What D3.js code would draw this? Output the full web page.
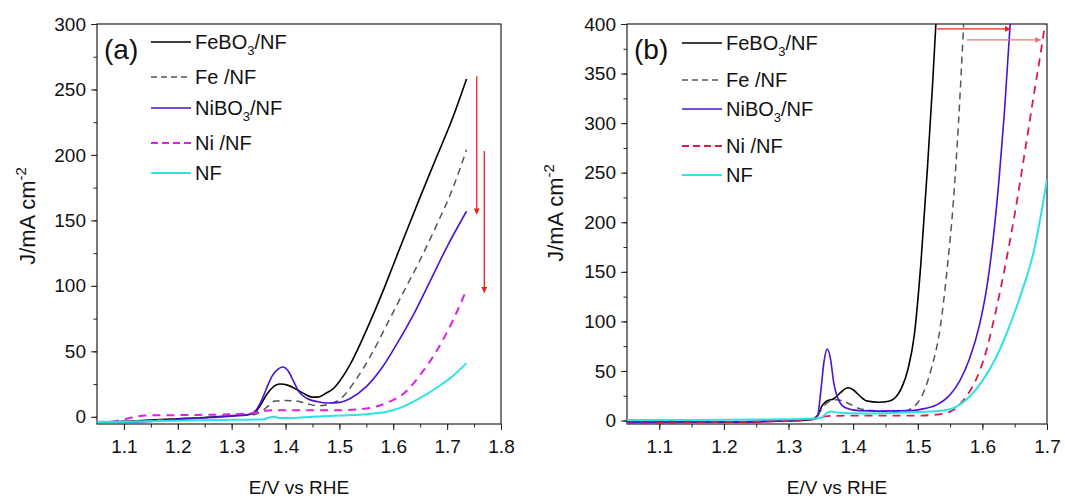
<!DOCTYPE html>
<html>
<head>
<meta charset="utf-8">
<script src="https://cdn.jsdelivr.net/npm/d3@7"></script>
<style>
  body { margin: 0; background: #fff; }
  svg { font-family: "Liberation Sans", Arial, sans-serif; }
</style>
</head>
<body>
<div id="chart"></div>
<script>
// Curvas de polarizacion (E vs RHE, J en mA cm-2)
// Panel (a)
const aFeBO3 = [[1.05,-4],[1.1,-3.5],[1.15,-2.5],[1.2,-1.5],[1.25,-0.5],[1.3,0.8],[1.335,2],[1.345,4],[1.355,10],[1.365,17],[1.375,22],[1.39,25],[1.405,24],[1.42,21],[1.435,17.5],[1.45,15],[1.46,15],[1.475,18],[1.49,22],[1.5,27],[1.52,40],[1.55,66],[1.58,95],[1.6,116],[1.62,137],[1.65,168],[1.68,198],[1.71,228],[1.736,258]];
const aFe = [[1.05,-4],[1.1,-3.5],[1.15,-2.5],[1.2,-1.5],[1.25,-0.5],[1.3,0.8],[1.34,1.5],[1.355,4],[1.37,9],[1.38,12],[1.4,12.5],[1.42,12],[1.44,10],[1.46,8.5],[1.475,9],[1.49,11],[1.5,13],[1.53,28],[1.56,48],[1.59,72],[1.62,96],[1.65,120],[1.68,146],[1.71,174],[1.736,204]];
const aNiBO3 = [[1.05,-4],[1.1,-4],[1.15,-3.5],[1.2,-2],[1.25,-0.8],[1.3,0.5],[1.335,2],[1.345,5],[1.355,12],[1.365,22],[1.375,31],[1.385,36],[1.395,38],[1.405,35],[1.415,27],[1.425,19],[1.44,14],[1.46,11.5],[1.48,10.5],[1.5,11],[1.52,14],[1.55,23],[1.58,38],[1.61,58],[1.64,80],[1.67,105],[1.7,130],[1.736,157]];
const aNi = [[1.05,-4],[1.08,-3.5],[1.1,-2],[1.12,0],[1.14,1],[1.2,1.3],[1.25,1.5],[1.3,2],[1.34,3],[1.36,4.5],[1.38,5],[1.45,5],[1.5,5],[1.53,5.5],[1.56,7],[1.59,11],[1.62,18],[1.65,32],[1.68,50],[1.71,73],[1.736,97]];
const aNF = [[1.05,-4],[1.1,-3.8],[1.2,-3],[1.3,-2.3],[1.36,-1.8],[1.37,-0.5],[1.378,0],[1.39,-1],[1.41,-1],[1.45,0],[1.5,1],[1.55,2],[1.59,4],[1.62,8],[1.65,14.5],[1.68,22],[1.71,31],[1.736,41]];

// Panel (b)
const bFeBO3 = [[1.05,-1.5],[1.1,-1.5],[1.2,-1.5],[1.3,-0.5],[1.335,1],[1.345,5],[1.352,15],[1.36,20],[1.37,22],[1.38,28],[1.392,33],[1.4,31],[1.41,25],[1.42,20],[1.44,18.5],[1.455,19.5],[1.465,23],[1.475,33],[1.485,52],[1.495,88],[1.505,160],[1.515,255],[1.523,340],[1.528,400]];
const bFe = [[1.05,-1.5],[1.1,-1.5],[1.2,-1.2],[1.3,-0.3],[1.34,2],[1.35,10],[1.36,18],[1.375,21],[1.39,18],[1.41,12],[1.43,10],[1.46,9],[1.48,9.5],[1.49,12],[1.5,18],[1.51,30],[1.52,50],[1.535,95],[1.545,150],[1.555,220],[1.563,300],[1.571,400]];
const bNiBO3 = [[1.05,-2],[1.1,-2],[1.2,-1.5],[1.3,0],[1.34,2],[1.345,5],[1.35,30],[1.355,60],[1.36,72],[1.365,62],[1.37,38],[1.378,20],[1.388,13],[1.41,10],[1.44,9.5],[1.49,10],[1.51,12],[1.53,16],[1.55,26],[1.565,40],[1.58,62],[1.595,95],[1.607,135],[1.617,185],[1.626,245],[1.634,310],[1.643,400]];
const bNi = [[1.05,-3],[1.1,-2.5],[1.2,-1.5],[1.3,-0.5],[1.34,1.5],[1.36,4.5],[1.4,5],[1.5,5],[1.53,6],[1.55,9],[1.56,13],[1.57,20],[1.58,29],[1.59,41],[1.605,68],[1.62,108],[1.635,155],[1.65,208],[1.665,268],[1.68,330],[1.69,370],[1.697,400]];
const bNF = [[1.05,0.5],[1.1,0.5],[1.2,0.8],[1.3,1.2],[1.35,2.5],[1.36,8],[1.365,9],[1.375,8],[1.42,7],[1.46,7.5],[1.5,8.5],[1.54,10],[1.56,14],[1.58,24],[1.6,40],[1.62,62],[1.64,92],[1.66,128],[1.68,172],[1.7,243]];

// Etiquetas de leyenda (nombre, subindice, resto)
const legendLabels = [["FeBO", "3", "/NF"], ["Fe /NF", "", ""], ["NiBO", "3", "/NF"], ["Ni /NF", "", ""], ["NF", "", ""]];

// Ticks
const xTicksA = [1.1, 1.2, 1.3, 1.4, 1.5, 1.6, 1.7, 1.8];
const xTicksB = [1.1, 1.2, 1.3, 1.4, 1.5, 1.6, 1.7];
const yTicksA = [0, 50, 100, 150, 200, 250, 300];
const yTicksB = [0, 50, 100, 150, 200, 250, 300, 350, 400];

// Flechas rojas: [x1, y1, x2, y2] en unidades de datos
const arrowsA = [[1.755, 260, 1.755, 155], [1.769, 203, 1.769, 95]];
const arrowsB = [[1.53, 395, 1.643, 395], [1.576, 384, 1.69, 384]];

const W = 1065, H = 499;
const svg = d3.select("#chart").append("svg").attr("width", W).attr("height", H);

const defs = svg.append("defs");
function marker(id, color) {
  defs.append("marker")
    .attr("id", id)
    .attr("viewBox", "0 0 10 10")
    .attr("refX", 9).attr("refY", 5)
    .attr("markerWidth", 6).attr("markerHeight", 6)
    .attr("markerUnits", "userSpaceOnUse")
    .attr("orient", "auto")
    .append("path").attr("d", "M0,0L10,5L0,10Z").attr("fill", color);
}
marker("arrRed", "#e8211d");
marker("arrPink", "#e77a72");

function panel(cfg) {
  const x = d3.scaleLinear().domain(cfg.xDomain).range([cfg.left, cfg.right]);
  const y = d3.scaleLinear().domain(cfg.yDomain).range([cfg.bottom, cfg.top]);
  const g = svg.append("g");

  // clip para que las curvas no salgan del marco
  defs.append("clipPath").attr("id", cfg.id + "clip")
    .append("rect")
    .attr("x", cfg.left).attr("y", cfg.top)
    .attr("width", cfg.right - cfg.left).attr("height", cfg.bottom - cfg.top);

  // ticks menores
  const xMinor = d3.range(cfg.xDomain[0], cfg.xDomain[1] + 1e-9, 0.05).filter(v => v > cfg.xDomain[0] + 1e-9);
  const yMinor = d3.range(0, cfg.yDomain[1] + 1e-9, 25);

  g.append("g")
    .attr("transform", "translate(0," + cfg.bottom + ")")
    .call(d3.axisBottom(x).tickValues(xMinor).tickSize(3.5).tickFormat(""))
    .call(a => a.select(".domain").remove());
  g.append("g")
    .attr("transform", "translate(" + cfg.left + ",0)")
    .call(d3.axisLeft(y).tickValues(yMinor).tickSize(3.5).tickFormat(""))
    .call(a => a.select(".domain").remove());

  // ticks mayores
  const xAxis = g.append("g")
    .attr("transform", "translate(0," + cfg.bottom + ")")
    .call(d3.axisBottom(x).tickValues(cfg.xTicks).tickSize(6).tickPadding(10).tickFormat(d3.format(".1f")));
  xAxis.select(".domain").remove();
  const yAxis = g.append("g")
    .attr("transform", "translate(" + cfg.left + ",0)")
    .call(d3.axisLeft(y).tickValues(cfg.yTicks).tickSize(6).tickPadding(5));
  yAxis.select(".domain").remove();
  g.selectAll(".tick text").attr("font-size", 19).attr("fill", "#111").attr("font-family", "Liberation Sans, Arial, sans-serif");
  g.selectAll(".tick line").attr("stroke", "#222");

  // marco
  g.append("rect")
    .attr("x", cfg.left).attr("y", cfg.top)
    .attr("width", cfg.right - cfg.left).attr("height", cfg.bottom - cfg.top)
    .attr("fill", "none").attr("stroke", "#222").attr("stroke-width", 1.2);

  // curvas
  const line = d3.line().x(d => x(d[0])).y(d => y(d[1])).curve(d3.curveMonotoneX);
  const curves = g.append("g").attr("clip-path", "url(#" + cfg.id + "clip)");
  cfg.series.forEach(s => {
    curves.append("path")
      .datum(s.data)
      .attr("d", line)
      .attr("fill", "none")
      .attr("stroke", s.color)
      .attr("stroke-width", s.width)
      .attr("stroke-dasharray", s.dash || null);
  });

  // flechas
  cfg.arrows.forEach((a, i) => {
    g.append("line")
      .attr("x1", x(a[0])).attr("y1", y(a[1]))
      .attr("x2", x(a[2])).attr("y2", y(a[3]))
      .attr("stroke", cfg.arrowColors[i]).attr("stroke-width", 1.3)
      .attr("marker-end", "url(#" + cfg.arrowMarkers[i] + ")");
  });

  // etiqueta del panel
  g.append("text")
    .attr("x", cfg.left + 7).attr("y", cfg.top + 35)
    .attr("font-size", 28).attr("fill", "#111")
    .text(cfg.tag);

  // leyenda
  cfg.series.forEach((s, i) => {
    const ly = cfg.legendY[i];
    g.append("line")
      .attr("x1", cfg.legendX).attr("x2", cfg.legendX + 40)
      .attr("y1", ly).attr("y2", ly)
      .attr("stroke", s.color).attr("stroke-width", s.width)
      .attr("stroke-dasharray", s.legendDash || null);
    const t = g.append("text")
      .attr("x", cfg.legendX + 44).attr("y", ly + 7)
      .attr("font-size", 20).attr("fill", "#111");
    const lab = legendLabels[i];
    t.append("tspan").text(lab[0]);
    if (lab[1]) {
      t.append("tspan").attr("font-size", 13).attr("dy", 6).text(lab[1]);
      t.append("tspan").attr("dy", -6).text(lab[2]);
    }
  });

  // titulos de ejes
  g.append("text")
    .attr("x", (cfg.left + cfg.right) / 2).attr("y", 494)
    .attr("text-anchor", "middle").attr("font-size", 19).attr("fill", "#111")
    .text("E/V vs RHE");
  const yt = g.append("text")
    .attr("transform", "translate(" + (cfg.left - cfg.yTitleOff) + "," + cfg.yTitleY + ") rotate(-90)")
    .attr("text-anchor", "middle").attr("font-size", 22).attr("fill", "#111");
  yt.append("tspan").text("J/mA cm");
  yt.append("tspan").attr("font-size", 15).attr("dy", -9).text("-2");
}

panel({
  id: "a", tag: "(a)",
  left: 97, right: 501, top: 24, bottom: 424,
  xDomain: [1.05, 1.8], yDomain: [-5.5, 300],
  xTicks: xTicksA, yTicks: yTicksA,
  yTitleOff: 62, yTitleY: 216,
  legendX: 151, legendY: [42, 77, 108, 143, 173],
  arrows: arrowsA, arrowColors: ["#e8211d", "#e8211d"], arrowMarkers: ["arrRed", "arrRed"],
  series: [
    { data: aFeBO3, color: "#000000", width: 1.6 },
    { data: aFe, color: "#555555", width: 1.5, dash: "7,5", legendDash: "6,4" },
    { data: aNiBO3, color: "#4a12d6", width: 1.6 },
    { data: aNi, color: "#e020e0", width: 2, dash: "8,6", legendDash: "7,4" },
    { data: aNF, color: "#2de3e3", width: 2 }
  ]
});

panel({
  id: "b", tag: "(b)",
  left: 627, right: 1047, top: 24, bottom: 424,
  xDomain: [1.05, 1.7], yDomain: [-3.5, 400],
  xTicks: xTicksB, yTicks: yTicksB,
  yTitleOff: 64, yTitleY: 213,
  legendX: 682, legendY: [43, 80, 109, 146, 175],
  arrows: arrowsB, arrowColors: ["#e8211d", "#e77a72"], arrowMarkers: ["arrRed", "arrPink"],
  series: [
    { data: bFeBO3, color: "#000000", width: 1.6 },
    { data: bFe, color: "#555555", width: 1.5, dash: "7,5", legendDash: "6,4" },
    { data: bNiBO3, color: "#4a12d6", width: 1.6 },
    { data: bNi, color: "#d81b4a", width: 1.8, dash: "8,6", legendDash: "7,4" },
    { data: bNF, color: "#2de3e3", width: 2 }
  ]
});
</script>
</body>
</html>
